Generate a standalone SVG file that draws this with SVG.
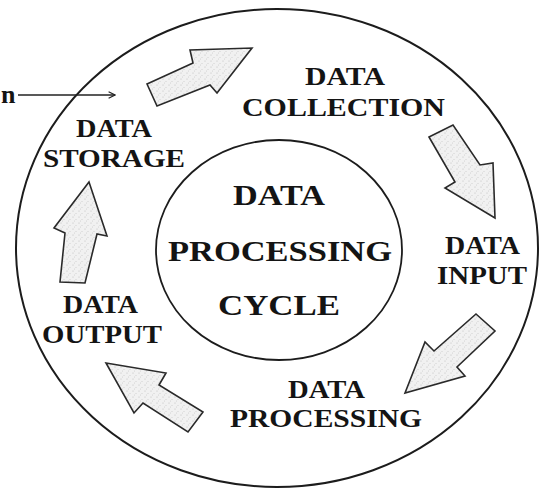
<svg xmlns="http://www.w3.org/2000/svg" width="541" height="489" viewBox="0 0 541 489">
  <defs>
    <!-- speckled grey fill for the block arrows -->
    <pattern id="stipple" width="6" height="6" patternUnits="userSpaceOnUse">
      <rect width="6" height="6" fill="#f1f1f1"/>
      <circle cx="1" cy="1" r="0.6" fill="#bdbdbd"/>
      <circle cx="4" cy="3.5" r="0.5" fill="#c8c8c8"/>
      <circle cx="2.5" cy="5" r="0.4" fill="#b0b0b0"/>
    </pattern>
    <marker id="chevron" viewBox="0 0 10 10" refX="9" refY="5" markerWidth="8" markerHeight="8" orient="auto" markerUnits="userSpaceOnUse">
      <path d="M1,1 L9,5 L1,9" fill="none" stroke="#222" stroke-width="1.4"/>
    </marker>
    <style>
      .ring { fill: none; stroke: #1c1c1c; stroke-width: 2; }
      .hub { fill: none; stroke: #1c1c1c; stroke-width: 1.8; }
      .label { font-family: "Liberation Serif", "Times New Roman", serif; font-weight: bold; font-size: 26px; fill: #141414; }
      .title { font-family: "Liberation Serif", "Times New Roman", serif; font-weight: bold; font-size: 30px; fill: #141414; }
      .flow { fill: url(#stipple); stroke: #2a2a2a; stroke-width: 1.6; stroke-linejoin: miter; }
      .pointer { stroke: #222; stroke-width: 1.4; fill: none; }
    </style>
  </defs>

  <rect width="541" height="489" fill="#ffffff"/>

  <!-- outer cycle ring -->
  <ellipse class="ring" cx="277" cy="248" rx="261" ry="239"/>

  <!-- central hub -->
  <g id="hub">
    <ellipse class="hub" cx="279" cy="250" rx="123" ry="110"/>
    <text class="title" x="233" y="205" textLength="92" lengthAdjust="spacingAndGlyphs">DATA</text>
    <text class="title" x="168" y="261" textLength="224" lengthAdjust="spacingAndGlyphs" font-size="32">PROCESSING</text>
    <text class="title" x="218" y="315" textLength="122" lengthAdjust="spacingAndGlyphs">CYCLE</text>
  </g>

  <g id="collection">
    <text class="label" x="305" y="85" textLength="80" lengthAdjust="spacingAndGlyphs">DATA</text>
    <text class="label" x="242" y="116" textLength="203" lengthAdjust="spacingAndGlyphs">COLLECTION</text>
  </g>

  <g id="input">
    <text class="label" x="445" y="254" textLength="75" lengthAdjust="spacingAndGlyphs">DATA</text>
    <text class="label" x="437" y="284" textLength="90" lengthAdjust="spacingAndGlyphs">INPUT</text>
  </g>

  <g id="processing">
    <text class="label" x="288" y="398" textLength="77" lengthAdjust="spacingAndGlyphs">DATA</text>
    <text class="label" x="230" y="427" textLength="192" lengthAdjust="spacingAndGlyphs">PROCESSING</text>
  </g>

  <g id="output">
    <text class="label" x="63" y="313" textLength="75" lengthAdjust="spacingAndGlyphs">DATA</text>
    <text class="label" x="42" y="343" textLength="120" lengthAdjust="spacingAndGlyphs">OUTPUT</text>
  </g>

  <g id="storage">
    <text class="label" x="76" y="137" textLength="76" lengthAdjust="spacingAndGlyphs">DATA</text>
    <text class="label" x="43" y="167" textLength="142" lengthAdjust="spacingAndGlyphs">STORAGE</text>
  </g>

  <!-- side callout entering from the left edge -->
  <g id="callout">
    <text class="label" x="1" y="103" font-size="20">n</text>
  </g>

  <g id="connectors">
    <line class="pointer" x1="18" y1="95" x2="115" y2="95" marker-end="url(#chevron)"/>
    <!-- storage to collection -->
    <polygon class="flow" points="147,84 193,63 190,50 252,48 217,93 210,85 157,106"/>
    <!-- collection to input -->
    <polygon class="flow" points="429,137 453,125 480,165 493,163 495,218 445,188 455,182"/>
    <!-- input to processing -->
    <polygon class="flow" points="476,314 495,331 457,367 465,376 405,393 425,342 434,351"/>
    <!-- processing to output -->
    <polygon class="flow" points="106,363 166,373 159,385 203,412 188,432 143,403 134,413"/>
    <!-- output to storage -->
    <polygon class="flow" points="89,182 107,236 97,234 85,283 60,282 65,233 54,228"/>
  </g>
</svg>
